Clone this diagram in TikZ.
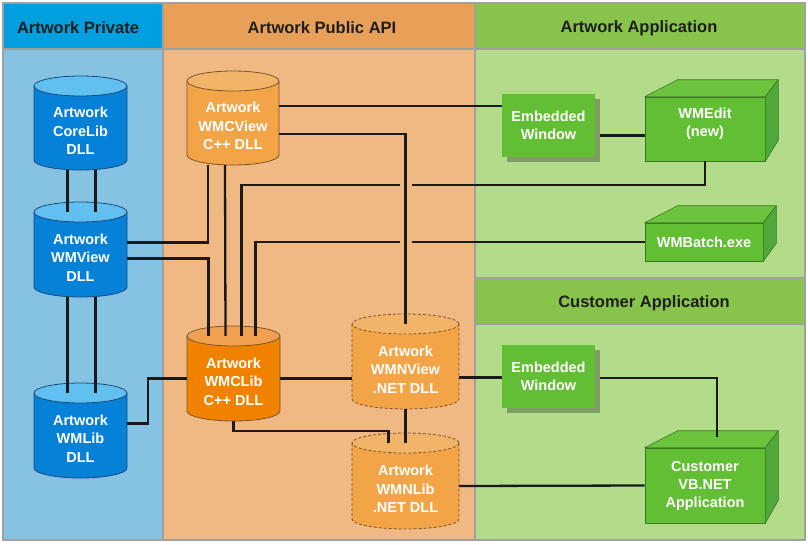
\documentclass[tikz,border=0pt]{standalone}
\usepackage{fontspec}
\setmainfont{Liberation Sans}
\usetikzlibrary{calc,shadows}
\definecolor{bordergray}{HTML}{A0A0A0}
\definecolor{privhead}{HTML}{00A0DE}
\definecolor{privbody}{HTML}{86C3E3}
\definecolor{pubhead}{HTML}{E8A058}
\definecolor{pubbody}{HTML}{F0B882}
\definecolor{apphead}{HTML}{88C44C}
\definecolor{appbody}{HTML}{B2DC8A}
\definecolor{bluebody}{HTML}{0582D8}
\definecolor{bluetop}{HTML}{62C0F0}
\definecolor{blueline}{HTML}{1B4A7A}
\definecolor{orbody}{HTML}{F2A446}
\definecolor{ortop}{HTML}{F2B468}
\definecolor{orline}{HTML}{7A5530}
\definecolor{darkorbody}{HTML}{F08200}
\definecolor{darkortop}{HTML}{F0A050}
\definecolor{gfront}{HTML}{62BE32}
\definecolor{gtop}{HTML}{6CC43E}
\definecolor{gside}{HTML}{50A83A}
\definecolor{gline}{HTML}{3C7824}
\definecolor{linecol}{HTML}{1A1A1A}
\definecolor{headtext}{HTML}{1E1E1E}

\tikzset{
 conn/.style={draw=linecol, line width=2.3pt},
 headtxt/.style={font=\fontsize{16.5}{19}\selectfont\bfseries, text=headtext, inner sep=0pt},
 cyltxt/.style={font=\fontsize{14.5}{18.5}\selectfont\bfseries, text=white, align=center, inner sep=0pt},
 boxtxt/.style={font=\fontsize{14.5}{18}\selectfont\bfseries, text=white, align=center, inner sep=0pt},
 box3d/.style={fill=gfront, draw=gline, line width=0.6pt, inner sep=0pt},
 embbox/.style={fill=gfront, inner sep=0pt, minimum width=93pt, minimum height=63pt,
   drop shadow={shadow xshift=5pt, shadow yshift=-5pt, fill=black, opacity=0.28}},
 topface/.style={fill=gtop, draw=gline, line width=0.6pt, line join=round},
 sideface/.style={fill=gside, draw=gline, line width=0.6pt, line join=round},
}

% #1 name, #2 x1, #3 y1, #4 x2, #5 y2, #6 body colour, #7 top colour, #8 outline options, #9 text
\newcommand\mycyl[9]{%
  \pgfmathsetmacro\cylrx{(#4-#2)/2}%
  \pgfmathsetmacro\cylcx{(#4+#2)/2}%
  \pgfmathsetmacro\cylcy{(#3+10+#5)/2}%
  \pgfmathsetmacro\cylh{#5-#3-10}%
  \pgfmathsetmacro\cylw{#4-#2}%
  \fill[#6] (#2,#3+10) -- (#2,#5-10) arc[start angle=180,end angle=0,x radius=\cylrx,y radius=10] -- (#4,#3+10) -- cycle;
  \draw[#8] (#2,#3+10) -- (#2,#5-10) arc[start angle=180,end angle=0,x radius=\cylrx,y radius=10] -- (#4,#3+10);
  \filldraw[fill=#7,#8] (\cylcx,#3+10) ellipse[x radius=\cylrx,y radius=10];
  \node[minimum width=\cylw, minimum height=\cylh, inner sep=0pt,
        label={[cyltxt,yshift=-3pt]center:{#9}}] (#1) at (\cylcx,\cylcy) {};
}

\newcommand\boxfaces[2]{%
  \path[topface] (#1.north west) -- ++(33,-17) -- ($(#1.north east)+(13,-17)$) -- (#1.north east) -- cycle;
  \path[sideface] (#1.north east) -- ++(13,-17) -- ($(#1.south east)+(13,#2)$) -- (#1.south east) -- cycle;
}

\begin{document}
\begin{tikzpicture}[x=1pt,y=-1pt]
\useasboundingbox (0,0) rectangle (808,544);
\fill[white] (0,0) rectangle (808,544);
\fill[bordergray] (2,2) rectangle (806,541);
% panels
\fill[privhead] (4,4) rectangle (162,48);
\fill[privbody] (4,50) rectangle (162,539);
\fill[pubhead] (164,4) rectangle (474,48);
\fill[pubbody] (164,50) rectangle (474,539);
\fill[apphead] (476,4) rectangle (804,48);
\fill[appbody] (476,50) rectangle (804,277);
\fill[apphead] (476,279) rectangle (804,323);
\fill[appbody] (476,325) rectangle (804,539);

\node[headtxt] (hpriv) at (78,28) {Artwork Private};
\node[headtxt] (hpub) at (322,28) {Artwork Public API};
\node[headtxt] (happ) at (639,28) {Artwork Application};
\node[headtxt] (hcust) at (644,303) {Customer Application};

% cylinders
\mycyl{corelib}{34}{76}{127}{170}{bluebody}{bluetop}{draw=blueline,line width=0.8pt}{Artwork\\CoreLib\\DLL}
\mycyl{wmview}{34}{202}{127}{297}{bluebody}{bluetop}{draw=blueline,line width=0.8pt}{Artwork\\WMView\\DLL}
\mycyl{wmlib}{34}{383}{127}{478}{bluebody}{bluetop}{draw=blueline,line width=0.8pt}{Artwork\\WMLib\\DLL}
\mycyl{wmcview}{187}{71}{279}{165}{orbody}{ortop}{draw=orline,line width=0.8pt}{Artwork\\WMCView\\C++ DLL}
\mycyl{wmclib}{187}{326}{280}{421}{darkorbody}{darkortop}{draw=orline,line width=0.8pt}{Artwork\\WMCLib\\C++ DLL}
\mycyl{wmnview}{352}{314}{459}{409}{orbody}{ortop}{draw=orline,line width=0.8pt,dash pattern=on 3pt off 2pt}{Artwork\\WMNView\\.NET DLL}
\mycyl{wmnlib}{352}{433}{459}{529}{orbody}{ortop}{draw=orline,line width=0.8pt,dash pattern=on 3pt off 2pt}{Artwork\\WMNLib\\.NET DLL}

% green boxes
\node[embbox, boxtxt] (emb1) at (548.5,125.5) {Embedded\\Window};
\node[embbox, boxtxt] (emb2) at (548.5,376) {Embedded\\Window};
\node[box3d, minimum width=120pt, minimum height=64pt,
      label={[boxtxt,yshift=5pt]center:{WMEdit\\(new)}}] (wmedit) at (705,129) {};
\node[box3d, boxtxt, minimum width=118pt, minimum height=38pt] (wmbatch) at (704,242) {WMBatch.exe};
\node[box3d, boxtxt, minimum width=120pt, minimum height=75pt] (cust) at (705,485.5) {Customer\\VB.NET\\Application};
\boxfaces{wmedit}{-21}
\boxfaces{wmbatch}{-18}
\boxfaces{cust}{-23}

% connectors
\draw[conn] ($(corelib.south)+(-13,0)$) -- ($(wmview.north)+(-13,0)$);
\draw[conn] ($(corelib.south)+(15,0)$) -- ($(wmview.north)+(15,0)$);
\draw[conn] ($(wmview.south)+(-13,0)$) -- ($(wmlib.north)+(-13,0)$);
\draw[conn] ($(wmview.south)+(15,0)$) -- ($(wmlib.north)+(15,0)$);
\draw[conn] ($(wmview.east)+(0,-12)$) -| ($(wmcview.south)+(-25,0)$);
\draw[conn] ($(wmview.east)+(0,4)$) -| ($(wmclib.north)+(-25,0)$);
\draw[conn] ($(wmcview.south)+(-8,0)$) -- ($(wmclib.north)+(-8,0)$);

\coordinate (y185) at ($(wmedit.south)+(0,24)$);
\coordinate (g1) at (wmnview.north |- y185);
\coordinate (g2) at (wmnview.north |- wmbatch.west);
\draw[conn] ($(wmclib.north)+(8,0)$) |- ($(g1)+(-6,0)$);
\draw[conn] ($(g1)+(6,0)$) -| (wmedit.south);
\draw[conn] ($(wmclib.north)+(22,0)$) |- ($(g2)+(-6,0)$);
\draw[conn] ($(g2)+(6,0)$) -- (wmbatch.west);

\coordinate (a1) at ($(wmcview.east)+(0,-17)$);
\draw[conn] (a1) -- (a1 -| emb1.west);
\coordinate (a2) at ($(wmcview.east)+(0,11)$);
\draw[conn] (a2) -| (wmnview.north);
\coordinate (a3) at ($(emb1.east)+(5,10)$);
\draw[conn] (a3) -- (a3 -| wmedit.west);
\coordinate (a4) at ($(wmnview.east)+(0,11)$);
\draw[conn] (a4) -- (a4 -| emb2.west);
\draw[conn] ($(emb2.east)+(5,2)$) -| ($(cust.north)+(12,-11)$);
\draw[conn] ($(wmlib.east)+(0,-12)$) -- ++(21,0) |- (wmclib.west);
\draw[conn] (wmclib.east) -- (wmclib.east -| wmnview.west);
\draw[conn] (wmclib.south) -- ++(0,10) -| ($(wmnlib.north)+(-17,0)$);
\draw[conn] (wmnview.south) -- (wmnlib.north);
\draw[conn] (wmnlib.east) -- (cust.west);
\end{tikzpicture}
\end{document}
